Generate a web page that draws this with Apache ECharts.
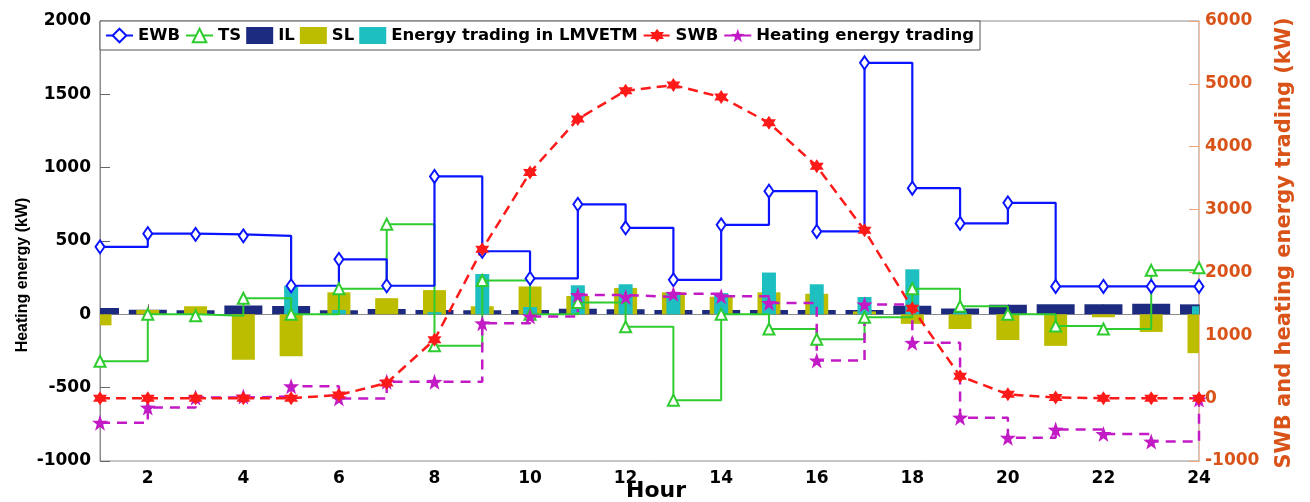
<!DOCTYPE html>
<html>
<head>
<meta charset="utf-8">
<script src="https://cdn.jsdelivr.net/npm/echarts@6/dist/echarts.min.js"></script>
<style>
html,body{margin:0;padding:0;background:#fff;}
#chart{width:1310px;height:502px;}
</style>
</head>
<body>
<div id="chart"></div>
<script>
// ---- data ----
const hours = [1,2,3,4,5,6,7,8,9,10,11,12,13,14,15,16,17,18,19,20,21,22,23,24];
const xTickValues = [2,4,6,8,10,12,14,16,18,20,22,24];
const EWB = [460,550,545,535,195,375,195,940,430,245,750,590,235,610,840,565,1715,860,620,760,190,190,190,190];
const TS = [-320,0,-10,110,0,175,615,-215,230,0,80,-85,-585,0,-100,-170,-20,175,55,0,-80,-100,300,318];
const IL = [43,32,27,61,57,27,36,30,28,30,38,35,30,30,30,30,30,59,39,66,68,68,73,68];
const SL = [-75,30,55,-310,-285,150,110,165,55,190,125,180,150,120,150,140,20,-65,-100,-175,-215,-20,-120,-265];
const LMVETM = [0,0,0,0,195,30,0,15,275,50,198,205,152,145,285,205,118,307,10,0,0,0,0,55];
const SWB = [0,0,0,0,0,50,240,930,2370,3590,4440,4890,4980,4790,4380,3690,2670,1430,350,60,10,0,0,0];
const HEAT = [-390,-150,10,25,190,-5,260,260,1190,1300,1640,1610,1660,1620,1515,600,1490,880,-310,-630,-500,-570,-690,-20];
const leftTicks = {min:-1000, max:2000, interval:500};
const rightTicks = {min:-1000, max:6000, interval:1000};

const pair = arr => hours.map((h,i)=>[h, arr[i]]);

const FONT = 'DejaVu Sans';
const hexagram = 'path://M0,-10 L2.89,-5 L8.66,-5 L5.77,0 L8.66,5 L2.89,5 L0,10 L-2.89,5 L-8.66,5 L-5.77,0 L-8.66,-5 L-2.89,-5 Z';
const pentagram = 'path://M0,-10 L2.35,-3.24 L9.51,-3.09 L3.8,1.24 L5.88,8.09 L0,4 L-5.88,8.09 L-3.8,1.24 L-9.51,-3.09 L-2.35,-3.24 Z';

// bar drawn through the cartesian coordinate system, clipped to the plot area
function barSeries(name, arr, color, width, z) {
  return {
    name: name, type: 'custom', xAxisIndex: 0, yAxisIndex: 0, z: z,
    data: pair(arr),
    itemStyle: {color: color},
    renderItem: function (params, api) {
      const x = api.value(0), y = api.value(1);
      const p0 = api.coord([x, 0]);
      const p1 = api.coord([x, y]);
      const cs = params.coordSys;
      const rect = echarts.graphic.clipRectByRect(
        {x: p0[0] - width / 2, y: Math.min(p0[1], p1[1]), width: width, height: Math.abs(p1[1] - p0[1])},
        {x: cs.x, y: cs.y, width: cs.width, height: cs.height}
      );
      if (!rect) return null;
      return {type: 'rect', shape: rect, style: {fill: color}};
    }
  };
}

const chart = echarts.init(document.getElementById('chart'), null, {renderer:'canvas'});
const plain = v => String(v);

const option = {
  animation:false,
  backgroundColor:'#fff',
  grid:{left:100, right:111, top:21, bottom:41, show:true, borderColor:'#8c8c8c', borderWidth:1, backgroundColor:'transparent'},
  legend:{
    left:100, top:21, padding:[6,6,6,5], itemGap:5, itemWidth:27, itemHeight:17,
    backgroundColor:'#fff', borderColor:'#555', borderWidth:1,
    textStyle:{fontFamily:FONT, fontWeight:'bold', fontSize:16.5, color:'#000'},
    data:[
      {name:'EWB'},{name:'TS'},
      {name:'IL', icon:'rect'},{name:'SL', icon:'rect'},{name:'Energy trading in LMVETM', icon:'rect'},
      {name:'SWB'},{name:'Heating energy trading'}
    ]
  },
  xAxis:[
    {type:'value', min:1, max:24, position:'bottom',
      axisLine:{show:true, lineStyle:{color:'#8c8c8c', width:1}},
      axisTick:{show:true, inside:true, length:10, lineStyle:{color:'#666'}, customValues:xTickValues},
      axisLabel:{show:true, margin:9, customValues:xTickValues, formatter:plain, fontFamily:FONT, fontWeight:'bold', fontSize:17, color:'#000'},
      splitLine:{show:false}}
  ],
  yAxis:[
    {type:'value', min:leftTicks.min, max:leftTicks.max, interval:leftTicks.interval, position:'left',
      axisLine:{show:true, lineStyle:{color:'#8c8c8c'}},
      axisTick:{show:true, inside:true, length:10, lineStyle:{color:'#666'}},
      axisLabel:{margin:9, formatter:plain, fontFamily:FONT, fontWeight:'bold', fontSize:17, color:'#000'},
      splitLine:{show:false}},
    {type:'value', min:rightTicks.min, max:rightTicks.max, interval:rightTicks.interval, position:'right',
      axisLine:{show:true, lineStyle:{color:'#F4BFA0'}},
      axisTick:{show:true, inside:true, length:10, lineStyle:{color:'#F0A57C'}},
      axisLabel:{margin:6, formatter:plain, fontFamily:FONT, fontWeight:'bold', fontSize:17, color:'#D95319'},
      splitLine:{show:false}}
  ],
  graphic:[
    {type:'text', x:23, y:275, rotation:Math.PI/2,
      style:{text:'Heating energy (kW)', fontFamily:'Liberation Sans', fontWeight:'bold', fontSize:16, fill:'#000', align:'center', verticalAlign:'middle'}},
    {type:'text', x:1285, y:243, rotation:Math.PI/2,
      style:{text:'SWB and heating energy trading (kW)', fontFamily:FONT, fontWeight:'bold', fontSize:21, fill:'#D95319', align:'center', verticalAlign:'middle'}},
    {type:'text', x:656, y:491,
      style:{text:'Hour', fontFamily:FONT, fontWeight:'bold', fontSize:22, fill:'#000', align:'center', verticalAlign:'middle'}}
  ],
  series:[
    barSeries('IL', IL, '#1C2B7F', 38, 2),
    barSeries('SL', SL, '#BDBD00', 23, 2),
    barSeries('Energy trading in LMVETM', LMVETM, '#1DBFC0', 14, 2),
    {name:'TS', type:'line', xAxisIndex:0, yAxisIndex:0, step:'end', data:pair(TS), z:3,
      symbol:'emptyTriangle', symbolSize:11, showAllSymbol:true,
      lineStyle:{color:'#2FCC2F', width:2}, itemStyle:{color:'#2FCC2F', borderWidth:2}},
    {name:'EWB', type:'line', xAxisIndex:0, yAxisIndex:0, step:'end', data:pair(EWB), z:3,
      symbol:'emptyDiamond', symbolSize:[9,13], showAllSymbol:true,
      lineStyle:{color:'#0A14FF', width:2.2}, itemStyle:{color:'#0A14FF', borderWidth:2}},
    {name:'Heating energy trading', type:'line', xAxisIndex:0, yAxisIndex:1, step:'end', data:pair(HEAT), z:3,
      symbol:pentagram, symbolSize:16, showAllSymbol:true,
      lineStyle:{color:'#C21BC6', width:2.5, type:[10,7]}, itemStyle:{color:'#C21BC6'}},
    {name:'SWB', type:'line', xAxisIndex:0, yAxisIndex:1, data:pair(SWB), z:3,
      symbol:hexagram, symbolSize:14, showAllSymbol:true,
      lineStyle:{color:'#FF1A1A', width:2.5, type:[10,6]}, itemStyle:{color:'#FF1A1A'}}
  ]
};
chart.setOption(option);
</script>
</body>
</html>
